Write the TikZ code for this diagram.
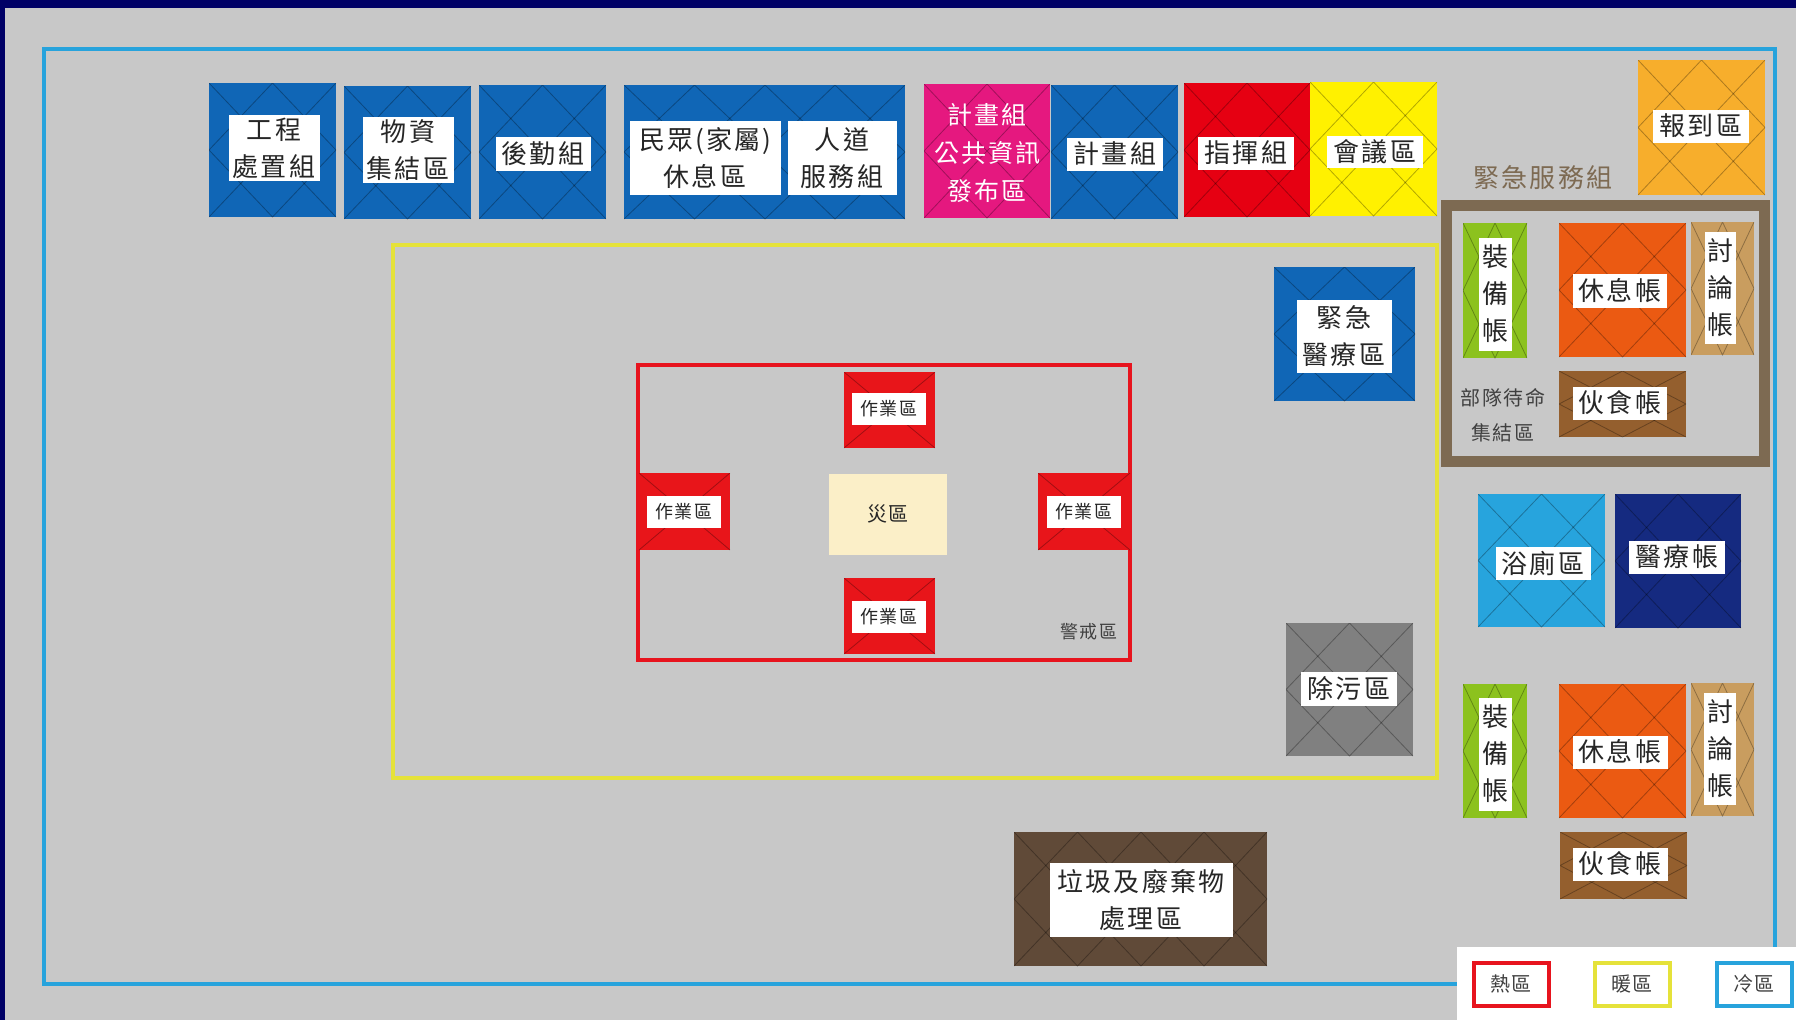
\documentclass[tikz,border=0pt]{standalone}
\usepackage{fontspec}
\setmainfont{Noto Sans CJK TC}[LetterSpace=8]
\usepackage{xcolor}
\definecolor{bg}{HTML}{C8C8C8}
\definecolor{topbar}{HTML}{000066}
\definecolor{cold}{HTML}{27A3DC}
\definecolor{warm}{HTML}{E5E23A}
\definecolor{hot}{HTML}{E7141E}
\definecolor{tblue}{HTML}{1066B6}
\definecolor{tpink}{HTML}{E5187F}
\definecolor{tred}{HTML}{E60012}
\definecolor{tfire}{HTML}{E8151A}
\definecolor{tyellow}{HTML}{FFF100}
\definecolor{tamber}{HTML}{F7AE2C}
\definecolor{tgreen}{HTML}{8CC21E}
\definecolor{torange}{HTML}{EB5A12}
\definecolor{ttan}{HTML}{C99D5F}
\definecolor{tbrown}{HTML}{945F2E}
\definecolor{frame}{HTML}{7D6A52}
\definecolor{tsky}{HTML}{27A4DD}
\definecolor{tnavy}{HTML}{152A80}
\definecolor{tgray}{HTML}{808080}
\definecolor{tdark}{HTML}{604A38}
\definecolor{sand}{HTML}{FBEFC8}
\begin{document}
\begin{tikzpicture}[x=1pt,y=-1pt]
    \tikzstyle{cross} = [path picture={
      \draw [black,opacity=.3,line width=.8]
        (path picture bounding box.north west) -- (path picture bounding box.south east)
        (path picture bounding box.north east) -- (path picture bounding box.south west);}]
    \tikzstyle{tile} = [cross,fill=#1,postaction={path picture={
      \draw [black,opacity=.3,line width=.8]
        (path picture bounding box.north) -- (path picture bounding box.east)
        -- (path picture bounding box.south) -- (path picture bounding box.west) -- cycle;}}]
    \tikzstyle{lab} = [fill=white,inner sep=0pt,align=center,text=black!85,
      font=\fontsize{26}{37}\selectfont]
    \tikzstyle{work} = [lab,font=\fontsize{18}{24}\selectfont]
    \tikzstyle{small} = [inner sep=0pt,align=center,text=black!75,
      font=\fontsize{20}{35}\selectfont]
    \tikzset{sz/.style 2 args={minimum width=#1,minimum height=#2}}
    \useasboundingbox (0,0) rectangle (1796,1020);
    \fill [bg] (0,0) rectangle (1796,1020);
    \fill [topbar] (0,0) rectangle (1796,8);
    \fill [topbar] (0,0) rectangle (5,1020);
    %% zones
    \draw [cold,line width=4.5] (44,49) rectangle (1775,984);
    \draw [warm,line width=4] (393,245) rectangle (1437,778);
    \draw [hot,line width=4] (638,365) rectangle (1130,660);
    \draw [frame,line width=11] (1446,205) rectangle (1764,461);
    %% top row
    \path [tile=tblue] (209,83) rectangle (336,217);
    \node [lab,sz={91}{66}] (gongcheng) at (274,148) {工程\\處置組};
    \path [tile=tblue] (344,86) rectangle (471,219);
    \node [lab,sz={91}{66}] (wuzi) at (408,150) {物資\\集結區};
    \path [tile=tblue] (479,85) rectangle (606,219);
    \node [lab,sz={95}{34}] (houqin) at (543,154) {後勤組};
    \path [tile=tblue] (624,85) rectangle (765,219);
    \path [tile=tblue] (765,85) rectangle (905,219);
    \node [lab,sz={151}{74}] (minzhong) at (705,158) {民眾(家屬)\\休息區};
    \node [lab,sz={109}{74}] (rendao) at (842,158) {人道\\服務組};
    \path [tile=tpink] (924,84) rectangle (1050,218);
    \node [lab,fill=none,text=white,font=\fontsize{25}{38}\selectfont] (gonggong) at (987,153) {計畫組\\公共資訊\\發布區};
    \path [tile=tblue] (1051,85) rectangle (1178,219);
    \node [lab,sz={96}{33}] (jihua) at (1115,154) {計畫組};
    \path [tile=tred] (1184,83) rectangle (1310,217);
    \node [lab,sz={96}{33}] (zhihui) at (1246,153) {指揮組};
    \path [tile=tyellow] (1310,82) rectangle (1437,216);
    \node [lab,sz={96}{32}] (huiyi) at (1375,152) {會議區};
    \path [tile=tamber] (1638,60) rectangle (1765,195);
    \node [lab,sz={96}{33}] (baodao) at (1701,126) {報到區};
    %% standby area
    \node [small,text=frame,font=\fontsize{26}{30}\selectfont] (jinji) at (1543,178) {緊急服務組};
    \path [tile=tgreen] (1463,223) rectangle (1527,358);
    \node [lab,sz={33}{113}] (zhuang) at (1495,294) {裝\\備\\帳};
    \path [tile=torange] (1559,223) rectangle (1686,357);
    \node [lab,sz={94}{34}] (xiuxi) at (1620,291) {休息帳};
    \path [tile=ttan] (1691,222) rectangle (1754,355);
    \node [lab,sz={31}{112}] (taolun) at (1720,288) {討\\論\\帳};
    \path [tile=tbrown] (1559,371) rectangle (1686,437);
    \node [lab,sz={94}{33}] (huoshi) at (1620,403) {伙食帳};
    \node [small] (budui) at (1503,415) {部隊待命\\集結區};
    %% second group of tents
    \path [tile=tgreen] (1463,684) rectangle (1527,818);
    \node [lab,sz={33}{113}] (zhuangb) at (1495,754) {裝\\備\\帳};
    \path [tile=torange] (1559,684) rectangle (1686,818);
    \node [lab,sz={95}{33}] (xiuxib) at (1620,752) {休息帳};
    \path [tile=ttan] (1691,683) rectangle (1754,816);
    \node [lab,sz={32}{112}] (taolunb) at (1720,749) {討\\論\\帳};
    \path [tile=tbrown] (1560,832) rectangle (1687,899);
    \node [lab,sz={95}{33}] (huoshib) at (1620,864) {伙食帳};
    %% inner areas
    \path [tile=tblue] (1274,267) rectangle (1415,401);
    \node [lab,sz={95}{73}] (yiliao) at (1344,336) {緊急\\醫療區};
    \path [tile=tsky] (1478,494) rectangle (1605,627);
    \node [lab,sz={95}{33}] (yuce) at (1543,563) {浴廁區};
    \path [tile=tnavy] (1615,494) rectangle (1741,628);
    \node [lab,sz={96}{33}] (yiliaozhang) at (1677,557) {醫療帳};
    \path [tile=tgray] (1286,623) rectangle (1413,756);
    \node [lab,sz={96}{34}] (chuwu) at (1349,689) {除污區};
    \path [tile=tdark] (1014,832) rectangle (1141,966);
    \path [tile=tdark] (1141,832) rectangle (1267,966);
    \node [lab,sz={183}{74}] (laji) at (1141,900) {垃圾及廢棄物\\處理區};
    %% hot zone
    \path [cross,fill=tfire] (844,372) rectangle (935,448);
    \node [work,sz={74}{32}] (zuoyea) at (889,409) {作業區};
    \path [cross,fill=tfire] (639,473) rectangle (730,550);
    \node [work,sz={74}{32}] (zuoyeb) at (684,512) {作業區};
    \path [cross,fill=tfire] (1038,473) rectangle (1130,550);
    \node [work,sz={74}{32}] (zuoyec) at (1084,512) {作業區};
    \path [cross,fill=tfire] (844,578) rectangle (935,654);
    \node [work,sz={74}{32}] (zuoyed) at (889,617) {作業區};
    \node [lab,sz={118}{81},fill=sand,font=\fontsize{20}{24}\selectfont] (zaiqu) at (888,514) {災區};
    \node [small,font=\fontsize{18}{24}\selectfont] (jingjie) at (1089,632) {警戒區};
    %% legend
    \fill [white] (1457,947) rectangle (1796,1020);
    \node [small,draw=hot,line width=4,sz={75}{43}] (re) at (1511,984) {熱區};
    \node [small,draw=warm,line width=4,sz={75}{43}] (nuan) at (1632,984) {暖區};
    \node [small,draw=cold,line width=4,sz={75}{43}] (leng) at (1754,984) {冷區};
\end{tikzpicture}
\end{document}
